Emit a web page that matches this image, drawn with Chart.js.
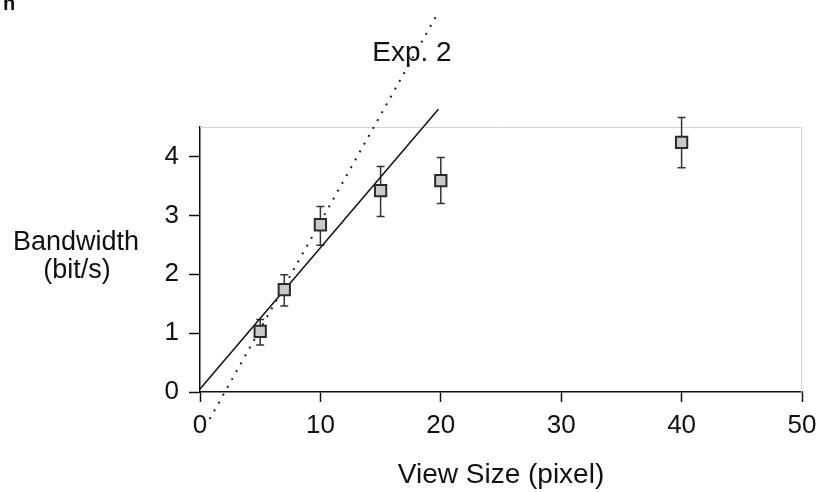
<!DOCTYPE html>
<html>
<head>
<meta charset="utf-8">
<script src="https://cdn.jsdelivr.net/npm/chart.js@4.4.1/dist/chart.umd.min.js"></script>
<style>
  html, body { margin: 0; padding: 0; background: #fff; }
  #wrap { width: 819px; height: 492px; }
</style>
</head>
<body>
<div id="wrap"><canvas id="chart"></canvas></div>
<script>
// Dados
const viewSize = [5, 7, 10, 15, 20, 40];
const bandwidth = [1.03, 1.74, 2.84, 3.42, 3.59, 4.24];
const errLow = [0.80, 1.46, 2.49, 2.98, 3.20, 3.81];
const errHigh = [1.23, 1.99, 3.15, 3.83, 3.98, 4.66];

// reta ajustada (solida) e modelo (pontilhada)
const fitX = [0, 19.8];
const fitY = [0.05, 4.8];
const modelX = [0.8, 19.8];
const modelY = [-0.46, 6.45];

const xTicks = [0, 10, 20, 30, 40, 50];
const yTicks = [0, 1, 2, 3, 4];

const FONT = "'Liberation Sans', Arial, sans-serif";
Chart.defaults.font.family = FONT;
Chart.defaults.color = '#111';

function toPoints(xs, ys) {
    return xs.map((x, i) => ({ x: x, y: ys[i] }));
}

// moldura cinza em cima e a direita
const framePlugin = {
    id: 'frame',
    beforeDatasetsDraw(chart) {
        const { ctx, chartArea: a } = chart;
        ctx.save();
        ctx.strokeStyle = '#d4d4d4';
        ctx.lineWidth = 1;
        ctx.beginPath();
        ctx.moveTo(a.left, a.top + 0.5);
        ctx.lineTo(a.right - 0.5, a.top + 0.5);
        ctx.lineTo(a.right - 0.5, a.bottom);
        ctx.stroke();
        ctx.restore();
    }
};

// barras de erro
const errorBarPlugin = {
    id: 'errorBars',
    beforeDatasetsDraw(chart) {
        const { ctx, scales } = chart;
        ctx.save();
        ctx.strokeStyle = '#333';
        ctx.lineWidth = 1.5;
        viewSize.forEach((v, i) => {
            const px = scales.x.getPixelForValue(v);
            const lo = scales.y.getPixelForValue(errLow[i]);
            const hi = scales.y.getPixelForValue(errHigh[i]);
            ctx.beginPath();
            ctx.moveTo(px, lo);
            ctx.lineTo(px, hi);
            ctx.moveTo(px - 4, lo);
            ctx.lineTo(px + 4, lo);
            ctx.moveTo(px - 4, hi);
            ctx.lineTo(px + 4, hi);
            ctx.stroke();
        });
        ctx.restore();
    }
};

// titulo, titulo do eixo y na horizontal e letra do painel
const textPlugin = {
    id: 'sideText',
    afterDraw(chart) {
        const { ctx } = chart;
        ctx.save();
        ctx.fillStyle = '#111';
        ctx.textAlign = 'center';
        ctx.textBaseline = 'alphabetic';
        ctx.font = '28px ' + FONT;
        ctx.fillText('Exp. 2', 412, 61);
        ctx.font = '27px ' + FONT;
        ctx.fillText('Bandwidth', 76, 250);
        ctx.fillText('(bit/s)', 77, 278);
        ctx.textAlign = 'left';
        ctx.font = 'bold 20px ' + FONT;
        ctx.fillText('n', 3, 10);
        ctx.restore();
    }
};

const ctx = document.getElementById('chart');

new Chart(ctx, {
    type: 'scatter',
    data: {
        datasets: [
            {
                label: 'Exp. 2',
                data: toPoints(viewSize, bandwidth),
                pointStyle: 'rect',
                pointRadius: 8,
                pointBackgroundColor: '#c9c9c9',
                pointBorderColor: '#2a2a2a',
                pointBorderWidth: 2,
                order: 0
            },
            {
                label: 'Ajuste',
                data: toPoints(fitX, fitY),
                showLine: true,
                borderColor: '#111',
                borderWidth: 1.5,
                pointRadius: 0,
                clip: false,
                order: 1
            },
            {
                label: 'Modelo',
                data: toPoints(modelX, modelY),
                showLine: true,
                borderColor: '#222',
                borderWidth: 2,
                borderDash: [2, 7],
                pointRadius: 0,
                clip: false,
                order: 2
            }
        ]
    },
    options: {
        responsive: true,
        maintainAspectRatio: false,
        animation: false,
        layout: {
            padding: { top: 127, right: 0, bottom: 0, left: 0 }
        },
        plugins: {
            legend: { display: false },
            tooltip: { enabled: false },
            title: { display: false }
        },
        scales: {
            x: {
                type: 'linear',
                min: 0,
                max: 50,
                afterBuildTicks: s => { s.ticks = xTicks.map(v => ({ value: v })); },
                afterFit: s => { s.height = 100; s.paddingRight = 17; },
                border: { display: true, color: '#111', width: 1.5 },
                grid: {
                    drawOnChartArea: false,
                    drawTicks: true,
                    tickLength: 10,
                    tickColor: '#111',
                    tickWidth: 1.5
                },
                ticks: {
                    color: '#111',
                    font: { size: 26 },
                    padding: 8,
                    maxRotation: 0
                },
                title: {
                    display: true,
                    text: 'View Size (pixel)',
                    color: '#111',
                    font: { size: 28 },
                    padding: { top: 10, bottom: 0 }
                }
            },
            y: {
                type: 'linear',
                min: 0,
                max: 4.5,
                afterBuildTicks: s => { s.ticks = yTicks.map(v => ({ value: v })); },
                afterFit: s => { s.width = 200; },
                border: { display: true, color: '#111', width: 1.5 },
                grid: {
                    drawOnChartArea: false,
                    drawTicks: true,
                    tickLength: 11,
                    tickColor: '#111',
                    tickWidth: 1.5
                },
                ticks: {
                    color: '#111',
                    font: { size: 26 },
                    padding: 10
                }
            }
        }
    },
    plugins: [framePlugin, errorBarPlugin, textPlugin]
});
</script>
</body>
</html>
